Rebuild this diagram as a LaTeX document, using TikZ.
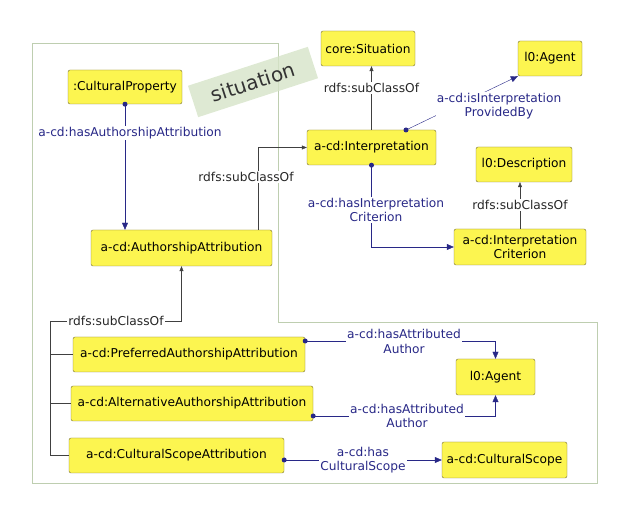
\documentclass[tikz,border=0pt]{standalone}
\usepackage{fontspec}
\setmainfont{DejaVu Sans}
\usepackage{tikz}
\usetikzlibrary{calc}
\usetikzlibrary{arrows.meta}

\definecolor{boxfill}{RGB}{252,245,80}
\definecolor{boxline}{RGB}{118,108,52}
\definecolor{relblue}{RGB}{40,40,135}
\definecolor{regionline}{RGB}{190,206,176}
\definecolor{sitgreen}{RGB}{214,228,200}

\tikzset{
  cls/.style={draw=boxline, fill=boxfill, rounded corners=2pt, inner sep=1pt,
    align=center, font=\fontsize{12.2}{14.5}\selectfont},
  rel/.style={relblue, -{Triangle[length=7pt,width=6pt]}},
  sub/.style={black!75, -{Triangle[length=5pt,width=4pt]}},
  rellabel/.style={fill=white, text=relblue, inner sep=1pt, align=center,
    font=\fontsize{12.2}{14.5}\selectfont},
  sublabel/.style={fill=white, text=black!85, inner sep=1pt,
    font=\fontsize{12.2}{14.5}\selectfont},
}

\begin{document}
\begin{tikzpicture}[x=1pt, y=-1pt]

\useasboundingbox (0,0) rectangle (622,510);

% situation region
\draw[regionline] (32,43) -- (278,43) -- (278,322) -- (597,322) -- (597,483) -- (32,483) -- cycle;
\node[rotate=18, fill=sitgreen, fill opacity=0.8, text opacity=1, text=black!80,
  minimum width=126pt, minimum height=33pt, font=\fontsize{20}{20}\selectfont] (sitlabel) at (253,82) {situation};

% classes
\node[cls, minimum width=114pt, minimum height=34pt] (cprop) at (125,87) {:CulturalProperty};
\node[cls, minimum width=181pt, minimum height=36pt] (authattr) at (181.5,248) {a-cd:AuthorshipAttribution};
\node[cls, minimum width=129pt, minimum height=35pt] (interp) at (371.5,147.5) {a-cd:Interpretation};
\node[cls, minimum width=94pt, minimum height=35pt] (situ) at (368,48.5) {core:Situation};
\node[cls, minimum width=64pt, minimum height=35pt] (agentA) at (550,58.5) {l0:Agent};
\node[cls, minimum width=96pt, minimum height=35pt] (descr) at (524,164.5) {l0:Description};
\node[cls, minimum width=132pt, minimum height=36pt] (icrit) at (520,247) {a-cd:Interpretation\\Criterion};
\node[cls, minimum width=232pt, minimum height=35pt] (prefaa) at (189,354.5) {a-cd:PreferredAuthorshipAttribution};
\node[cls, minimum width=242pt, minimum height=35pt] (altaa) at (192,403.5) {a-cd:AlternativeAuthorshipAttribution};
\node[cls, minimum width=215pt, minimum height=35pt] (csa) at (176.5,455.5) {a-cd:CulturalScopeAttribution};
\node[cls, minimum width=79pt, minimum height=36pt] (agentB) at (495.5,377) {l0:Agent};
\node[cls, minimum width=125pt, minimum height=36pt] (cscope) at (504.5,460) {a-cd:CulturalScope};

% subclass links
\coordinate (ssa) at (258,230);
\draw[sub] (ssa) |- (interp.west);
\node[sublabel] (lsa) at (246,177) {rdfs:subClassOf};

\draw[sub] (interp.north) -- (interp.north |- situ.south);
\node[sublabel] (lsi) at (371.5,88) {rdfs:subClassOf};

\draw[sub] (icrit.north) -- (icrit.north |- descr.south);
\node[sublabel] (lsd) at (520,205) {rdfs:subClassOf};

\coordinate (tree) at (50,321);
\draw[sub] (tree) -| (authattr.south);
\draw[black!75] (tree) |- (csa.west);
\draw[black!75] (tree |- prefaa.west) -- (prefaa.west);
\draw[black!75] (tree |- altaa.west) -- (altaa.west);
\node[sublabel] (ltree) at (116,321) {rdfs:subClassOf};

% object properties
\draw[rel] (cprop.south) -- (cprop.south |- authattr.north);
\fill[relblue] (cprop.south) circle[radius=2.5pt];
\node[rellabel] (lhaa) at (130,133) {a-cd:hasAuthorshipAttribution};

\coordinate (ipb) at (406,130);
\draw[rel] (ipb) -- (agentA.south west);
\fill[relblue] (ipb) circle[radius=2.5pt];
\node[rellabel] (lipb) at (499,106) {a-cd:isInterpretation\\ProvidedBy};

\draw[rel] (interp.south) |- (icrit.west);
\fill[relblue] (interp.south) circle[radius=2.5pt];
\node[rellabel] (lhic) at (376,210) {a-cd:hasInterpretation\\Criterion};

\coordinate (paa) at ($(prefaa.east)+(0,-13.5)$);
\draw[rel] (paa) -| (agentB.north);
\fill[relblue] (paa) circle[radius=2.5pt];
\node[rellabel] (lpaa) at (404,341.5) {a-cd:hasAttributed\\Author};

\coordinate (aaa) at ($(altaa.east)+(0,12.5)$);
\draw[rel] (aaa) -| (agentB.south);
\fill[relblue] (aaa) circle[radius=2.5pt];
\node[rellabel] (laaa) at (407,416) {a-cd:hasAttributed\\Author};

\coordinate (hcs) at (csa.east |- cscope.west);
\draw[rel] (hcs) -- (cscope.west);
\fill[relblue] (hcs) circle[radius=2.5pt];
\node[rellabel] (lhcs) at (363,460) {a-cd:has\\CulturalScope};

\end{tikzpicture}
\end{document}
